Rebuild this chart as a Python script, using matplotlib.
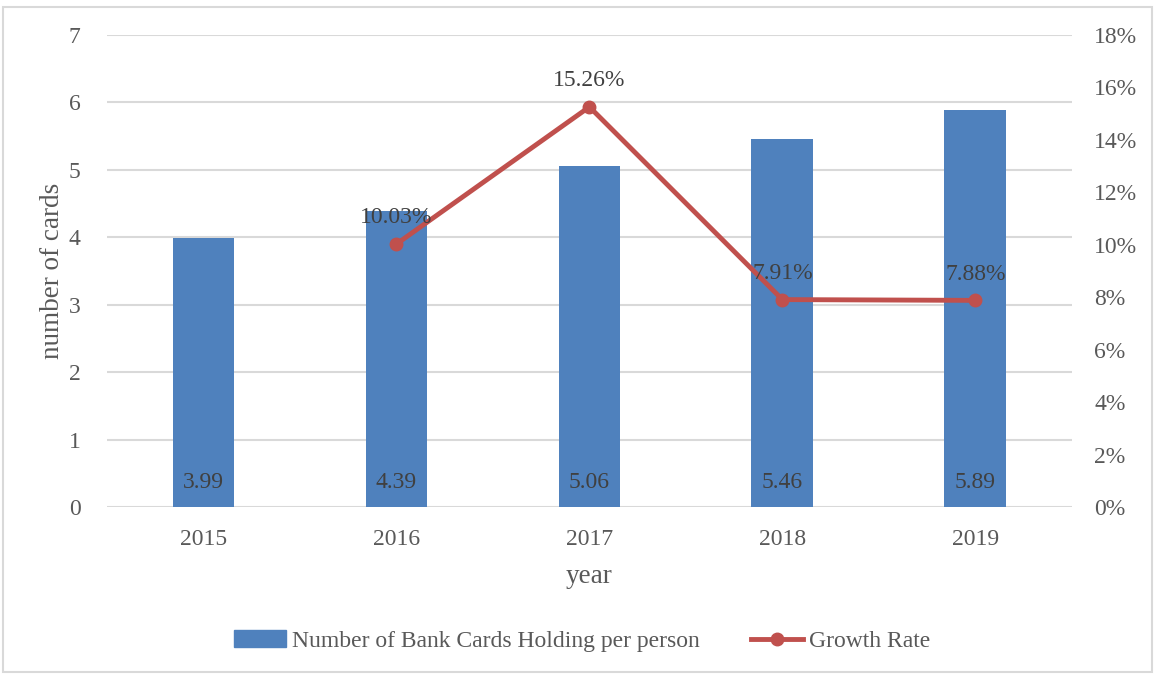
import matplotlib.pyplot as plt
from matplotlib.lines import Line2D
from matplotlib.patches import Patch, Rectangle

years = ['2015', '2016', '2017', '2018', '2019']
cards = [3.99, 4.39, 5.06, 5.46, 5.89]
growth_years = ['2016', '2017', '2018', '2019']
growth = [10.03, 15.26, 7.91, 7.88]

bar_color = '#4F81BD'
line_color = '#C0504D'
text_color = '#595959'
label_color = '#404040'

plt.rcParams['font.family'] = ['Liberation Serif', 'DejaVu Serif']

fig = plt.figure(figsize=(11.55, 6.75), dpi=100)
ax = fig.add_axes([0.0926, 0.2489, 0.8354, 0.6992])

x = list(range(len(years)))
ax.bar(x, cards, width=0.32, color=bar_color, zorder=2)
for xi, v in zip(x, cards):
    ax.text(xi, 0.36, f'{v:.2f}', ha='center', va='center', fontsize=17, color=label_color, zorder=4)

ax.set_xlim(-0.5, len(years) - 0.5)
ax.set_ylim(0, 7)
ax.set_yticks(range(0, 8))
ax.set_xticks(x)
ax.set_xticklabels(years)
ax.grid(axis='y', color='#D9D9D9', linewidth=1.5, zorder=0)
ax.set_axisbelow(True)
for s in ax.spines.values():
    s.set_visible(False)
ax.tick_params(axis='y', length=0, labelsize=17, colors=text_color, pad=19)
ax.tick_params(axis='x', length=0, labelsize=17, colors=text_color, pad=16)
ax.set_xlabel('year', fontsize=19.5, color=text_color, labelpad=10)
ax.set_ylabel('number of cards', fontsize=19.5, color=text_color, labelpad=3)

ax2 = ax.twinx()
gx = [years.index(y) for y in growth_years]
ax2.plot(gx, growth, color=line_color, linewidth=3.5, marker='o', markersize=9, zorder=3)
for xi, v in zip(gx, growth):
    ax2.text(xi, v + 0.6, f'{v:.2f}%', ha='center', va='bottom', fontsize=17, color=label_color, zorder=4)
ax2.set_ylim(0, 18)
ax2.set_yticks(range(0, 19, 2))
ax2.set_yticklabels([f'{t}%' for t in range(0, 19, 2)])
for s in ax2.spines.values():
    s.set_visible(False)
ax2.tick_params(length=0, labelsize=17, colors=text_color, pad=16)

handles = [Patch(color=bar_color),
           Line2D([], [], color=line_color, linewidth=3.5, marker='o', markersize=9)]
fig.legend(handles, ['Number of Bank Cards Holding per person', 'Growth Rate'],
           loc='center', bbox_to_anchor=(0.504, 0.05), ncol=2, frameon=False,
           fontsize=17, labelcolor=text_color, handlelength=2.2, handletextpad=0.25,
           columnspacing=2.2)

fig.patches.append(Rectangle((0.003, 0.005), 0.994, 0.985, transform=fig.transFigure,
                             fill=False, edgecolor='#D9D9D9', linewidth=1.5))

fig.savefig('out.png', dpi=100)
